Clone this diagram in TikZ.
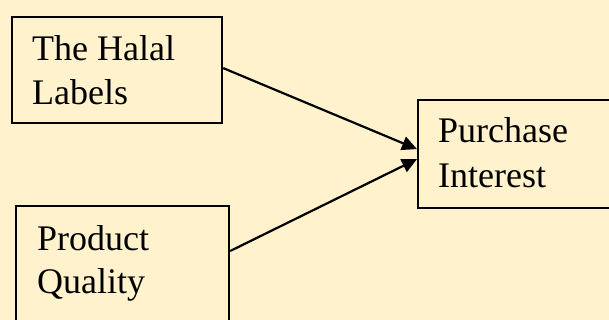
\documentclass[tikz,border=0pt]{standalone}
\usepackage{fontspec}
\setmainfont{Liberation Serif}
\usetikzlibrary{arrows.meta}
\definecolor{bg}{HTML}{FFF2CC}
\begin{document}
\begin{tikzpicture}[x=1pt,y=-1pt,
  box/.style={draw=black, line width=2.2pt, fill=bg, rectangle, inner sep=0pt, anchor=north west},
  lbl/.style={anchor=base west, inner sep=0pt, font=\fontsize{36}{43}\selectfont},
  conn/.style={line width=2.2pt, -{Triangle[length=15pt,width=14pt]}}]
\fill[bg] (0,0) rectangle (609,320);
\useasboundingbox (0,0) rectangle (609,320);
\clip (0,0) rectangle (609,320);
\node[box, minimum width=210pt, minimum height=106pt] (halal) at (11,16) {};
\node[box, minimum width=213pt, minimum height=150pt] (qual) at (15,205) {};
\node[box, minimum width=220pt, minimum height=108pt] (purch) at (417,99) {};
\node[lbl] (t1a) at (32,61) {The Halal};
\node[lbl] (t1b) at (32,105) {Labels};
\node[lbl] (t2a) at (37,250) {Product};
\node[lbl] (t2b) at (37,293) {Quality};
\node[lbl] (t3a) at (438,143) {Purchase};
\node[lbl] (t3b) at (438,188) {Interest};
\draw[conn] ([yshift=2pt]halal.east) -- ([yshift=5pt]purch.west);
\draw[conn] ([yshift=-46pt]qual.north east) -- ([yshift=-5pt]purch.west);
\end{tikzpicture}
\end{document}
